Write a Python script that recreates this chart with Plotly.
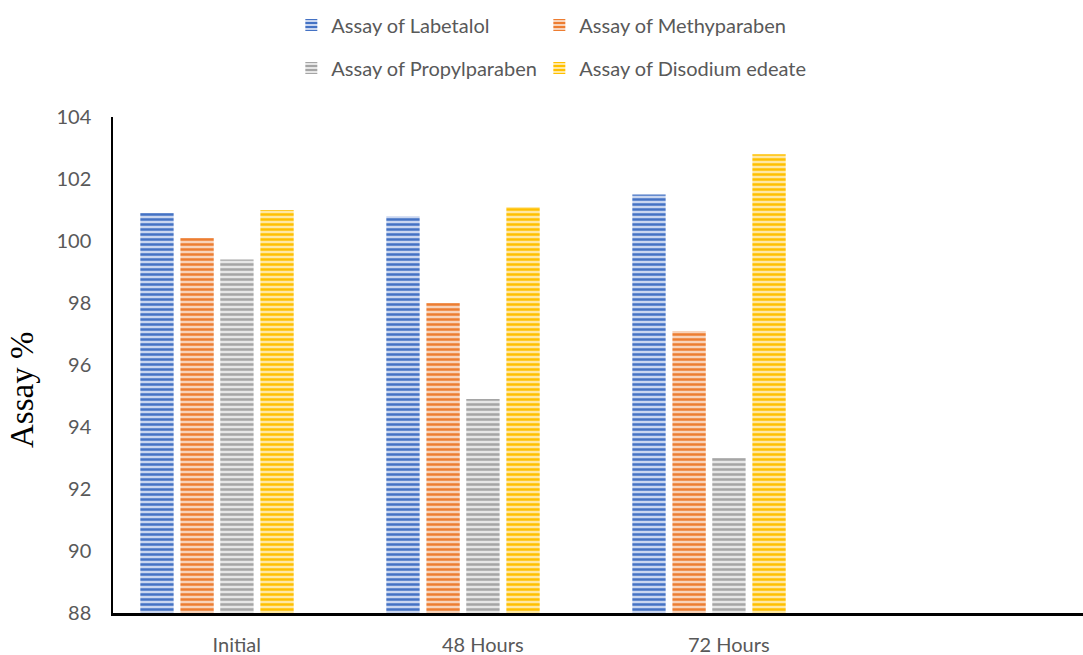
import plotly.graph_objects as go

# Sampling points and assay results (%)
timepoints = ["Initial", "48 Hours", "72 Hours"]
labetalol = [100.9, 100.8, 101.5]
methylparaben = [100.1, 98.0, 97.1]
propylparaben = [99.4, 94.9, 93.0]
disodium_edeate = [101.0, 101.1, 102.8]

series_names = [
    "Assay of Labetalol",
    "Assay of Methyparaben",
    "Assay of Propylparaben",
    "Assay of Disodium edeate",
]
y_ticks = [88, 90, 92, 94, 96, 98, 100, 102, 104]

# (stripe colour, light background colour)
palette = [
    ("#4472C4", "#C9D6F0"),
    ("#ED7D31", "#F8D3BA"),
    ("#A5A5A5", "#E6E6E6"),
    ("#FFC000", "#FFE8A3"),
]
bar_width = 0.1355
bar_offsets = [-0.392, -0.229, -0.067, 0.096]

# one legend box per entry, laid out as a 2 x 2 grid above the plot
legend_ids = ["legend", "legend2", "legend3", "legend4"]
legend_x = [0.269, 0.498, 0.269, 0.498]
legend_y = [1 - 25 / 655, 1 - 25 / 655, 1 - 68 / 655, 1 - 68 / 655]

TEXT = "#595959"
FONT = "Lato, 'Liberation Sans', sans-serif"

fig = go.Figure()
for name, vals, (fg, bg), off, lg in zip(
    series_names,
    [labetalol, methylparaben, propylparaben, disodium_edeate],
    palette,
    bar_offsets,
    legend_ids,
):
    fig.add_trace(
        go.Bar(
            x=timepoints,
            y=vals,
            name=name,
            width=bar_width,
            offset=off,
            legend=lg,
            showlegend=True,
            marker=dict(
                color=bg,
                line=dict(width=0),
                pattern=dict(shape="-", fgcolor=fg, bgcolor=bg,
                             size=5, solidity=0.5, fillmode="replace"),
            ),
        )
    )

legend_common = dict(
    orientation="h",
    xref="container",
    yref="container",
    xanchor="left",
    yanchor="middle",
    font=dict(family=FONT, size=20, color=TEXT),
    bgcolor="rgba(0,0,0,0)",
    itemclick=False,
    itemdoubleclick=False,
)
legends = {
    lid: dict(x=lx, y=ly, visible=True, **legend_common)
    for lid, lx, ly in zip(legend_ids, legend_x, legend_y)
}

fig.update_layout(
    width=1083,
    height=655,
    margin=dict(l=113, r=0, t=117, b=42),
    paper_bgcolor="white",
    plot_bgcolor="white",
    barmode="overlay",
    showlegend=True,
    font=dict(family=FONT, color=TEXT),
    **legends,
    xaxis=dict(
        type="category",
        range=[-0.503, 3.44],
        showline=True,
        linecolor="black",
        linewidth=3,
        showgrid=False,
        ticks="",
        ticklabelstandoff=12,
        tickfont=dict(family=FONT, size=20, color=TEXT),
        automargin=False,
        fixedrange=True,
    ),
    yaxis=dict(
        range=[88, 104],
        tickvals=y_ticks,
        showline=True,
        linecolor="black",
        linewidth=1.5,
        showgrid=False,
        zeroline=False,
        ticks="",
        ticklabelstandoff=16,
        tickfont=dict(family=FONT, size=20, color=TEXT),
        automargin=False,
        fixedrange=True,
    ),
    annotations=[
        dict(
            text="Assay %",
            xref="paper",
            yref="paper",
            x=(22 - 113) / 970,
            y=(613 - 390) / 496,
            textangle=-90,
            showarrow=False,
            xanchor="center",
            yanchor="middle",
            font=dict(family="'Liberation Serif', 'Times New Roman', serif",
                      size=33, color="black"),
        )
    ],
)

fig.write_html("out.html")
